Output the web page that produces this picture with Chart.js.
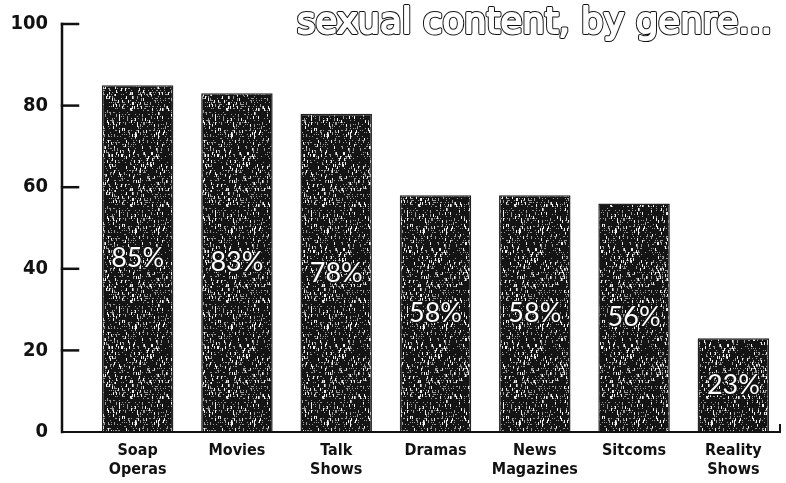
<!DOCTYPE html>
<html>
<head>
<meta charset="utf-8">
<script src="https://cdn.jsdelivr.net/npm/chart.js@4/dist/chart.umd.min.js"></script>
<style>
  html, body { margin: 0; padding: 0; background: #fff; }
  #wrap { width: 786px; height: 483px; }
</style>
</head>
<body>
<div id="wrap"><canvas id="myChart" width="786" height="483"></canvas></div>
<script>
// данные графика
var genres = [['Soap', 'Operas'], 'Movies', ['Talk', 'Shows'], 'Dramas', ['News', 'Magazines'], 'Sitcoms', ['Reality', 'Shows']];
var shares = [85, 83, 78, 58, 58, 56, 23];
var yTicks = [0, 20, 40, 60, 80, 100];
var titleText = 'sexual content, by genre...';

// текстура столбцов (шум)
function makeTexture() {
    var c = document.createElement('canvas');
    c.width = 96; c.height = 96;
    var g = c.getContext('2d');
    g.fillStyle = '#141414';
    g.fillRect(0, 0, 96, 96);
    for (var x = 0; x < 96; x++) {
        for (var y = 0; y < 96; y += 2) {
            var v = Math.sin(x * 12.9898 + y * 78.233) * 43758.5453;
            v = v - Math.floor(v);
            var w = Math.sin(x * 0.9 + 1.3) * Math.sin(y * 0.21) * 0.5 + 0.5;
            if (v > 0.86 - w * 0.14) {
                g.fillStyle = v > 0.95 ? '#f0f0f0' : '#9a9a9a';
                g.fillRect(x, y, 1, v > 0.92 ? 3 : 1);
            }
        }
    }
    return g.createPattern(c, 'repeat');
}

// оси рисуем сами
var axesPlugin = {
    id: 'axesLines',
    afterDatasetsDraw: function(chart) {
        var ctx = chart.ctx;
        var yS = chart.scales.y;
        var area = chart.chartArea;
        var ax = area.left - 26;
        var y0 = yS.getPixelForValue(0);
        var y100 = yS.getPixelForValue(100);
        ctx.save();
        ctx.strokeStyle = '#111';
        ctx.lineCap = 'square';
        ctx.lineWidth = 2.5;
        ctx.beginPath();
        ctx.moveTo(ax, y100);
        ctx.lineTo(ax, y0);
        ctx.stroke();
        for (var i = 1; i < yTicks.length; i++) {
            var ty = yS.getPixelForValue(yTicks[i]);
            ctx.beginPath();
            ctx.moveTo(ax, ty);
            ctx.lineTo(ax + 16, ty);
            ctx.stroke();
        }
        ctx.lineWidth = 2;
        ctx.beginPath();
        ctx.moveTo(ax, y0);
        ctx.lineTo(area.right - 3, y0);
        ctx.lineTo(area.right - 3, y0 - 7);
        ctx.stroke();
        ctx.restore();
    }
};

// подписи процентов и заголовок
var labelsPlugin = {
    id: 'valueLabels',
    afterDraw: function(chart) {
        var ctx = chart.ctx;
        var meta = chart.getDatasetMeta(0);
        ctx.save();
        ctx.font = '27px Lato';
        ctx.textAlign = 'center';
        ctx.textBaseline = 'middle';
        ctx.lineJoin = 'round';
        meta.data.forEach(function(bar, i) {
            var t = shares[i] + '%';
            var cy = (bar.y + bar.base) / 2;
            ctx.lineWidth = 2.5;
            ctx.strokeStyle = '#111';
            ctx.strokeText(t, bar.x, cy);
            ctx.fillStyle = '#fff';
            ctx.fillText(t, bar.x, cy);
        });
        // заголовок полым шрифтом
        ctx.font = '36px "DejaVu Sans"';
        var k = 475 / ctx.measureText(titleText).width;
        ctx.translate(772, 33);
        ctx.scale(k, 1);
        ctx.textAlign = 'right';
        ctx.textBaseline = 'alphabetic';
        ctx.lineWidth = 4;
        ctx.strokeStyle = '#111';
        ctx.strokeText(titleText, 0, 0);
        ctx.lineWidth = 2;
        ctx.strokeStyle = '#fff';
        ctx.strokeText(titleText, 0, 0);
        ctx.fillStyle = '#fff';
        ctx.fillText(titleText, 0, 0);
        ctx.restore();
    }
};

var ctx = document.getElementById('myChart').getContext('2d');
var myChart = new Chart(ctx, {
    type: 'bar',
    data: {
        labels: genres,
        datasets: [{
            data: shares,
            backgroundColor: makeTexture(),
            borderColor: '#222',
            borderWidth: 1.5,
            borderSkipped: 'bottom',
            barPercentage: 0.72,
            categoryPercentage: 1
        }]
    },
    options: {
        responsive: false,
        animation: false,
        events: [],
        layout: { padding: { top: 24, right: 3, bottom: 0, left: 0 } },
        plugins: {
            legend: { display: false },
            tooltip: { enabled: false },
            title: { display: false }
        },
        scales: {
            x: {
                grid: { display: false, drawTicks: false },
                border: { display: false },
                afterFit: function(scale) { scale.height = 51; },
                ticks: {
                    color: '#111',
                    padding: 10,
                    maxRotation: 0,
                    autoSkip: false,
                    font: { family: '"DejaVu Sans Condensed"', size: 16, weight: 'bold', lineHeight: 1.15 }
                }
            },
            y: {
                min: 0,
                max: 100,
                grid: { display: false, drawTicks: false },
                border: { display: false },
                afterFit: function(scale) {
                    scale.width = 88;
                    scale.paddingTop = 0;
                    scale.paddingBottom = 0;
                },
                afterBuildTicks: function(scale) {
                    scale.ticks = yTicks.map(function(v) { return { value: v }; });
                },
                ticks: {
                    color: '#111',
                    padding: 40,
                    font: { family: '"DejaVu Sans Condensed"', size: 20, weight: 'bold' }
                }
            }
        }
    },
    plugins: [axesPlugin, labelsPlugin]
});
</script>
</body>
</html>
